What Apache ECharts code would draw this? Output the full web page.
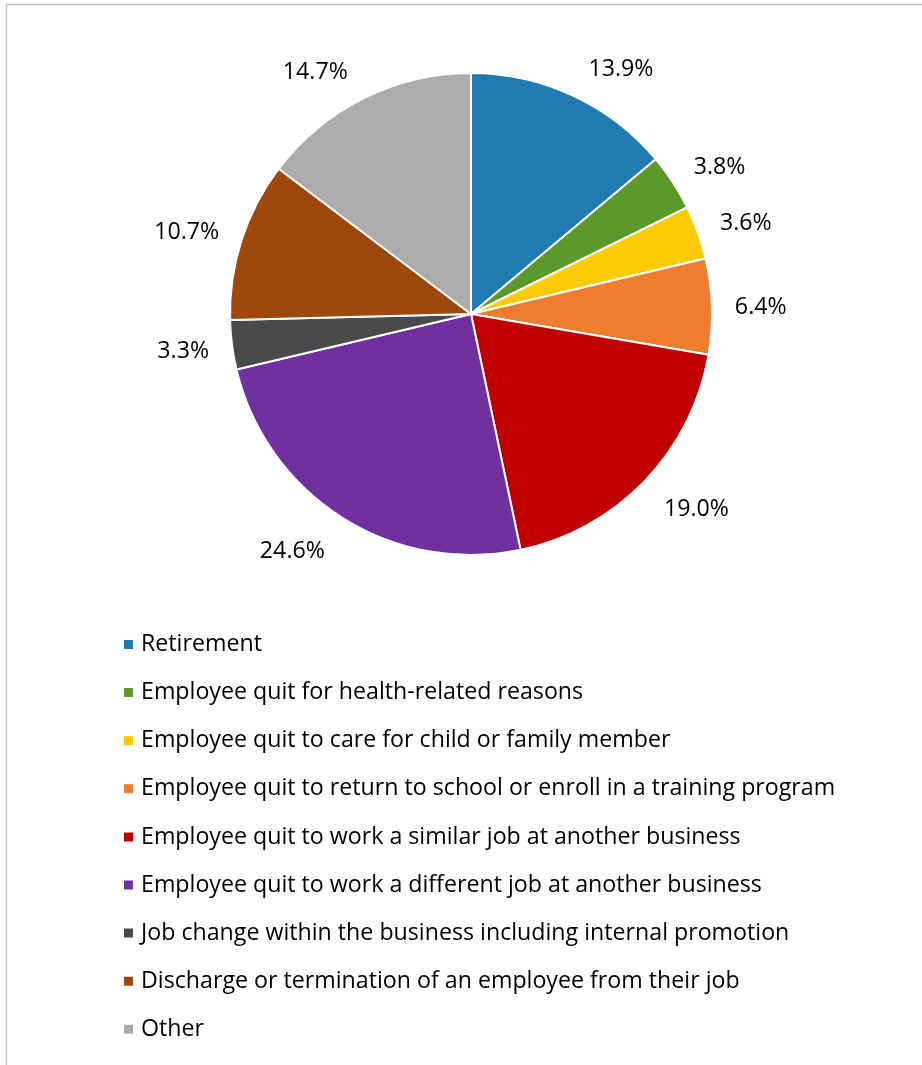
<!DOCTYPE html>
<html>
<head>
<meta charset="utf-8">
<script src="https://cdn.jsdelivr.net/npm/echarts@6/dist/echarts.min.js"></script>
<style>
  html, body { margin: 0; padding: 0; background: #ffffff; }
  #chart { width: 922px; height: 1065px; }
</style>
</head>
<body>
<div id="chart"></div>
<script>
// Reasons for employee separations (share of all separations, %)
const categories = [
  'Retirement',
  'Employee quit for health-related reasons',
  'Employee quit to care for child or family member',
  'Employee quit to return to school or enroll in a training program',
  'Employee quit to work a similar job at another business',
  'Employee quit to work a different job at another business',
  'Job change within the business including internal promotion',
  'Discharge or termination of an employee from their job',
  'Other'
];
const shares = [13.9, 3.8, 3.6, 6.4, 19.0, 24.6, 3.3, 10.7, 14.7];
const sliceColors = ['#1f7bb1', '#5b9a2a', '#ffcb05', '#ed7d31', '#c00000', '#7030a0', '#4a4a4c', '#9e480e', '#aeabab'];

const FONT = '"Open Sans", "Noto Sans", sans-serif';
const FONT_SIZE = 23.2;

// mid-angle of each slice, measured clockwise from 12 o'clock
const total = shares.reduce((a, b) => a + b, 0);
const midAngles = [];
shares.reduce((acc, v) => {
  midAngles.push((acc + v / 2) / total * 2 * Math.PI);
  return acc + v;
}, 0);

// push outside labels a little further out: sideways near the top/bottom,
// and up/down depending on which half of the pie they sit in
function labelNudge(i) {
  const sx = Math.sin(midAngles[i]);
  const sy = -Math.cos(midAngles[i]);
  return {
    dx: Math.sign(sx) * (1 - Math.abs(sx)) * 9,
    dy: sy * (sy < 0 ? 9.5 : 16) + 2
  };
}

const chart = echarts.init(document.getElementById('chart'), null, { renderer: 'canvas' });

chart.setOption({
  animation: false,
  backgroundColor: '#ffffff',
  color: sliceColors,
  graphic: [
    // frame lines along the top and left edges
    { type: 'line', shape: { x1: 6, y1: 4.5, x2: 922, y2: 4.5 }, style: { stroke: '#bdbdbd', lineWidth: 1.5 } },
    { type: 'line', shape: { x1: 6.5, y1: 4, x2: 6.5, y2: 1065 }, style: { stroke: '#c8c8c8', lineWidth: 1.5 } }
  ],
  legend: {
    orient: 'vertical',
    left: 122,
    top: 631,
    padding: 0,
    itemWidth: 11,
    itemHeight: 11,
    itemGap: 21.1,
    icon: 'rect',
    selectedMode: false,
    textStyle: {
      fontFamily: FONT,
      fontSize: FONT_SIZE,
      color: '#000000',
      lineHeight: 27,
      padding: [0, 0, 0, 2]
    },
    data: categories
  },
  series: [{
    type: 'pie',
    center: [471, 314],
    radius: 241,
    startAngle: 90,
    clockwise: true,
    avoidLabelOverlap: false,
    itemStyle: { borderColor: '#ffffff', borderWidth: 2 },
    label: {
      show: true,
      position: 'outside',
      distanceToLabelLine: 1,
      fontFamily: FONT,
      fontSize: FONT_SIZE,
      color: '#000000',
      formatter: p => p.value.toFixed(1) + '%'
    },
    labelLine: { show: false, length: 22, length2: 0 },
    labelLayout: p => labelNudge(p.dataIndex),
    emphasis: { disabled: true },
    data: categories.map((name, i) => ({ name, value: shares[i] }))
  }]
});
</script>
</body>
</html>
